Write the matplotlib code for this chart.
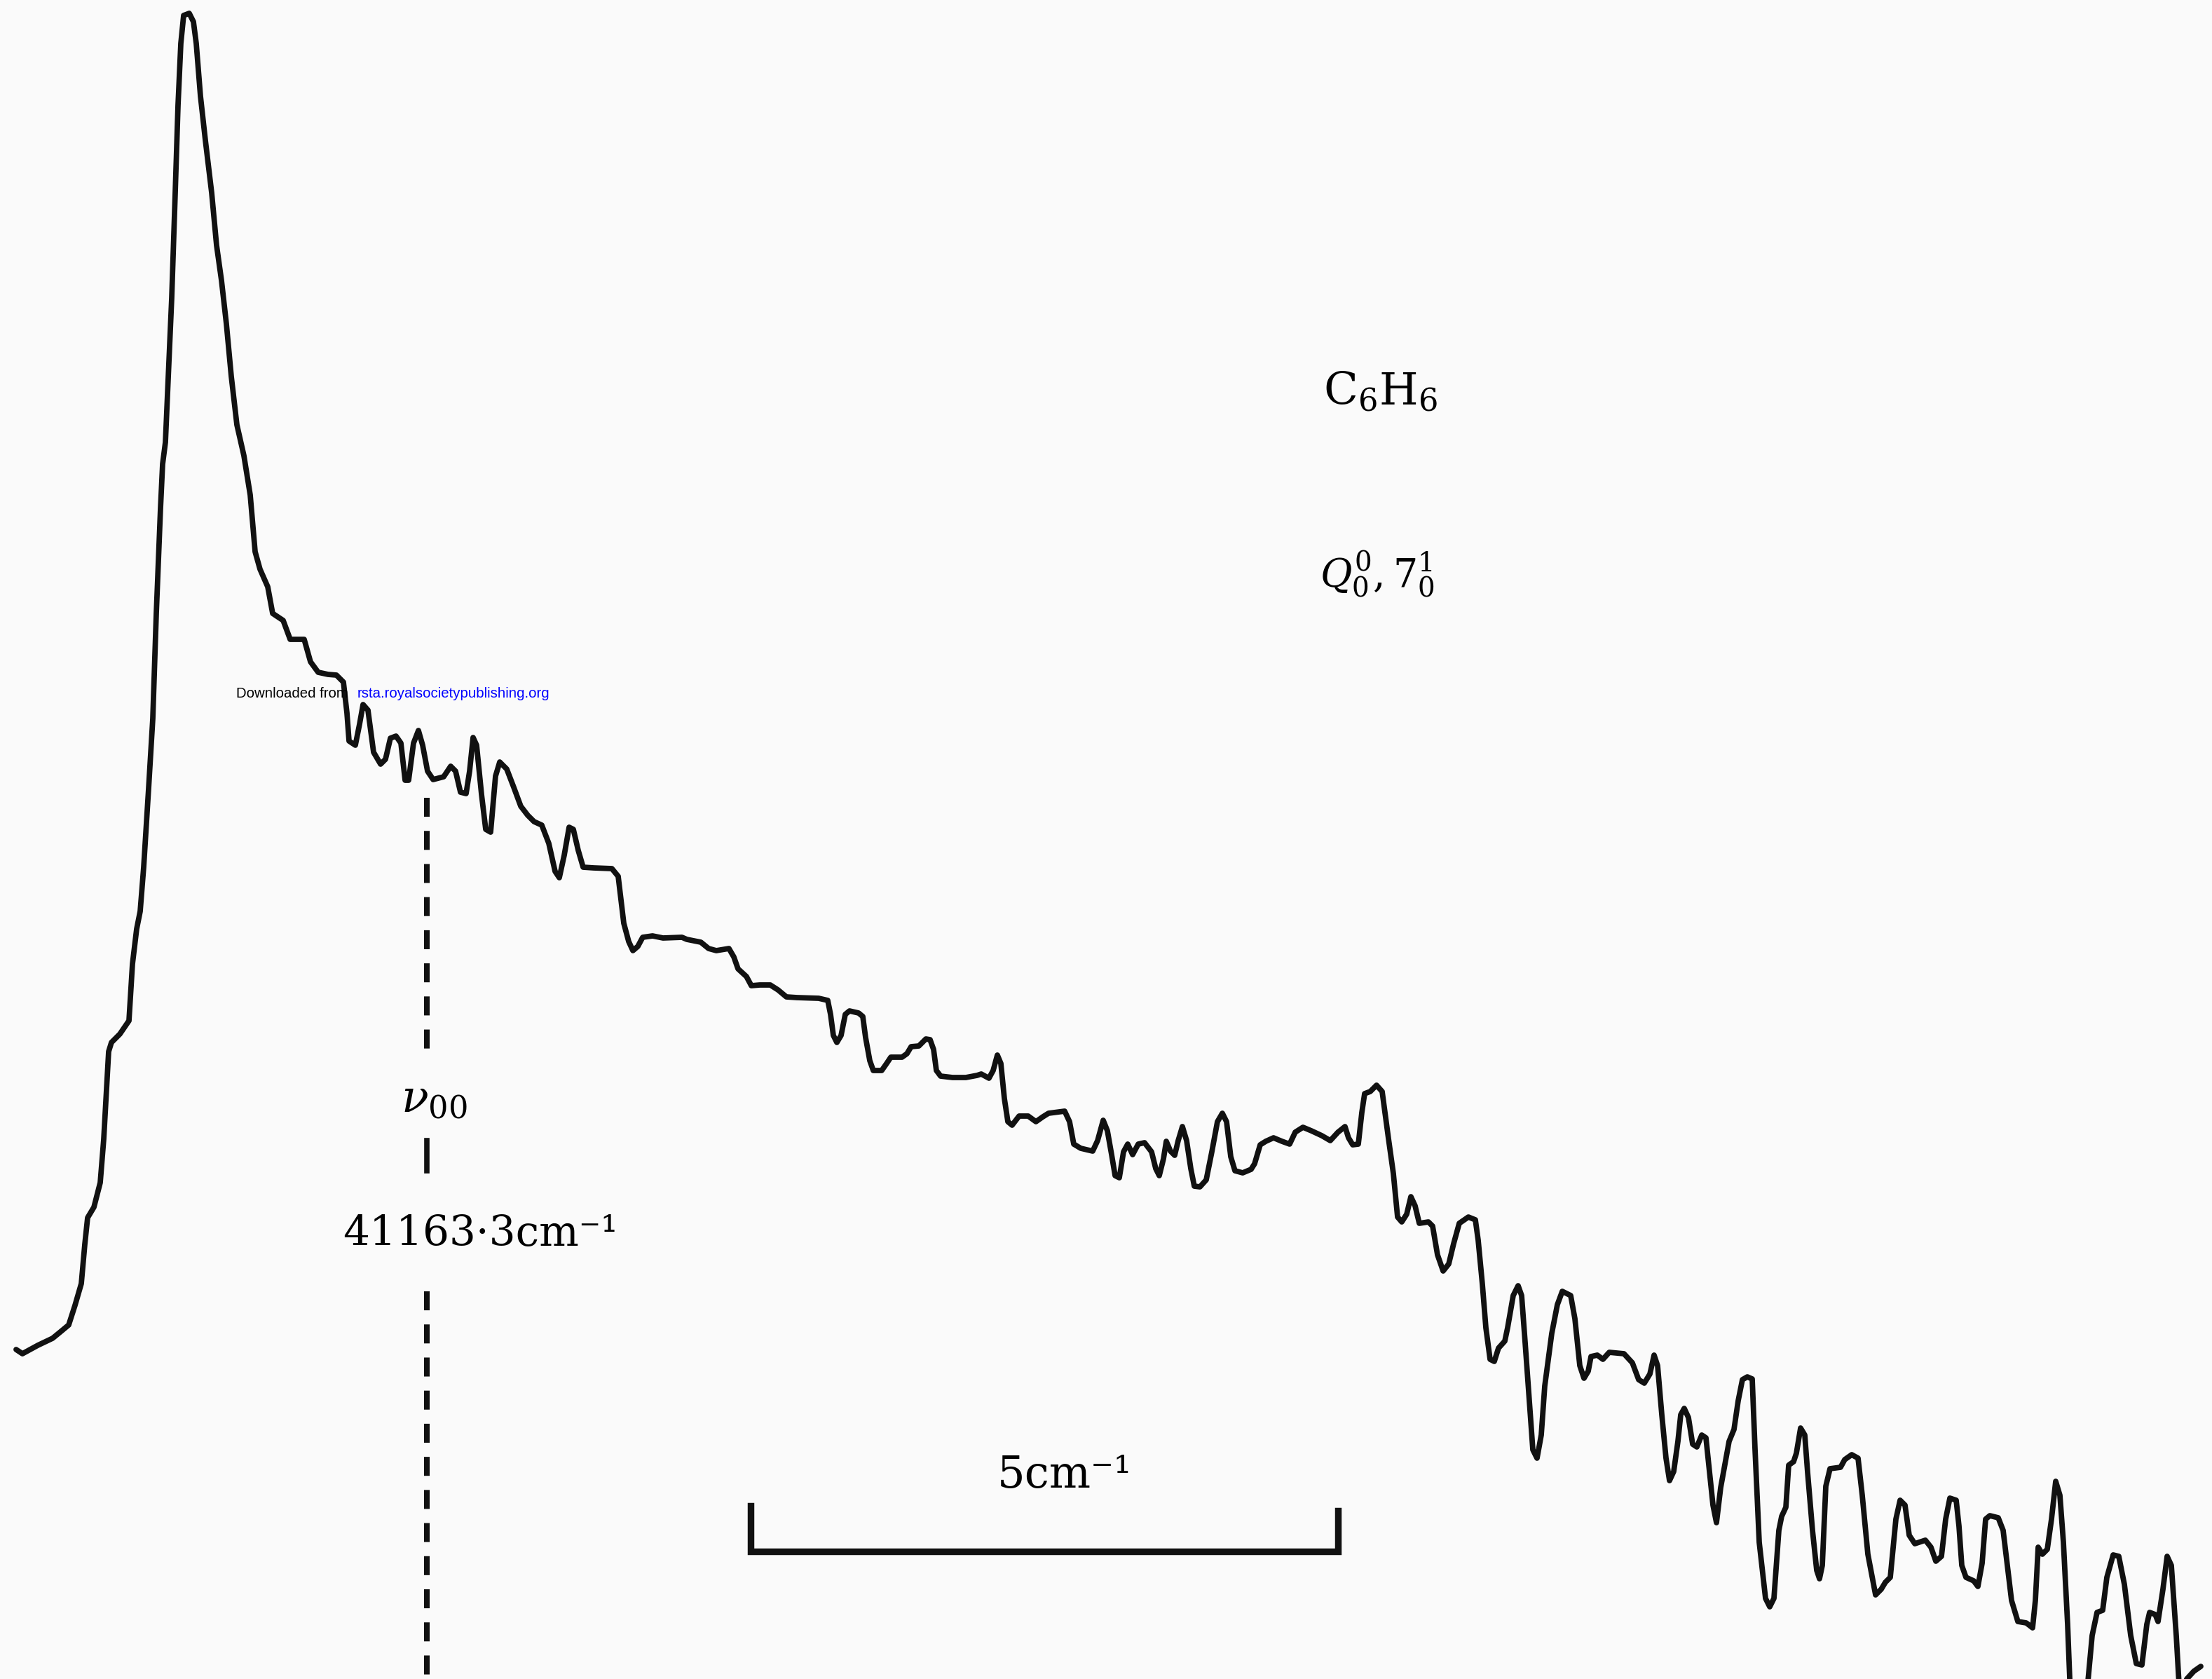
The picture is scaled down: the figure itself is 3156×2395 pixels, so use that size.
import matplotlib.pyplot as plt

# ---------- data: trace (chart units, y grows downward) ----------
trace_x = [
    23, 32, 54, 75, 86, 98, 107, 116, 121, 125, 134, 143, 148, 155, 159, 171, 184, 189, 195, 200,
    205, 212, 218, 223, 229, 232, 236, 239, 245, 250, 254, 258, 262, 270, 276, 280, 286, 293, 302, 309,
    316, 323, 330, 338, 348, 357, 364, 371, 382, 389, 404, 414, 425, 434, 443, 454, 468,
    480, 490, 495, 498, 507, 513, 518, 525, 533, 543, 550, 557, 565, 572, 578, 583, 590, 597, 603,
    610, 618, 633, 643, 650, 657, 665, 670, 675, 680, 687, 693, 700, 707, 713, 723, 733, 743, 753,
    762, 773, 783, 792, 798, 805, 812, 818, 825, 832, 847, 873, 882, 890,
    897, 903, 910, 917, 931, 946, 973, 980, 1000, 1011, 1022, 1040, 1047, 1053, 1065, 1072, 1084,
    1099, 1110, 1122, 1137, 1168, 1181, 1185, 1189, 1194, 1200, 1206, 1212, 1225, 1231, 1235, 1241,
    1246, 1258, 1265, 1271, 1287, 1294, 1300, 1311, 1321, 1327, 1332, 1336, 1342, 1359, 1378, 1394,
    1400, 1411, 1417, 1423, 1428, 1433, 1438, 1444, 1454, 1467, 1478, 1488, 1496, 1519, 1526, 1532,
    1542, 1559, 1566, 1574, 1580, 1586, 1591, 1597, 1603, 1609, 1616, 1624, 1633, 1643, 1649, 1654,
    1660, 1664, 1670, 1676, 1681, 1687, 1693, 1699, 1704, 1712, 1721, 1729, 1737, 1744, 1750, 1756,
    1762, 1773, 1785, 1790, 1798, 1806, 1817, 1829, 1840, 1848, 1859, 1871, 1886, 1898, 1909, 1919,
    1924, 1930, 1938, 1943, 1947, 1955, 1964, 1972,
    1981, 1988, 1994, 2000, 2007, 2013, 2019, 2025, 2038, 2044, 2051, 2059, 2067, 2074, 2082, 2095,
    2105, 2109, 2115, 2120, 2126, 2132, 2138, 2147, 2151, 2159, 2166, 2171, 2176, 2182, 2187, 2193,
    2199, 2204, 2214, 2222, 2229, 2241, 2247, 2254, 2260, 2266, 2270, 2279, 2287, 2296, 2317, 2329,
    2338, 2346, 2354, 2360, 2365, 2371, 2377, 2382, 2388, 2394, 2398, 2403, 2409, 2415, 2421, 2428,
    2434, 2438, 2444, 2449, 2455, 2467, 2474, 2480, 2486, 2493,
    2500, 2504, 2510, 2519, 2525, 2531, 2538, 2542, 2548, 2552, 2559, 2563, 2569, 2575, 2579, 2586,
    2592, 2596, 2600, 2605, 2611, 2626, 2632, 2642, 2651, 2657, 2665, 2676, 2684, 2690, 2697, 2705,
    2711, 2718, 2724, 2732, 2747, 2755, 2762, 2770, 2776, 2782, 2791, 2795, 2799, 2805, 2816, 2822,
    2828, 2833, 2839, 2851, 2858, 2864, 2870, 2879, 2891, 2900, 2904, 2908, 2914, 2921, 2927, 2933,
    2939, 2944, 2950, 2954, 2977, 2985, 2992, 3000, 3006, 3015, 3023, 3031, 3040, 3048, 3056, 3063,
    3067, 3075, 3079, 3086, 3092, 3098, 3105, 3110, 3120, 3130, 3140,
]
trace_y = [
    1925, 1931, 1919, 1909, 1900, 1890, 1862, 1831, 1775, 1737, 1722, 1687, 1625, 1500, 1487, 1475, 1456, 1375, 1325, 1300,
    1237, 1125, 1025, 875, 725, 662, 631, 562, 425, 275, 150, 62, 22, 19, 31, 62, 137, 200, 275, 350,
    400, 462, 537, 606, 650, 706, 787, 812, 837, 875, 885, 912, 912, 912, 944, 959, 962,
    963, 973, 1017, 1057, 1063, 1033, 1005, 1013, 1073, 1090, 1083, 1053, 1050, 1060, 1113, 1113, 1060, 1042, 1063,
    1100, 1112, 1108, 1093, 1100, 1130, 1132, 1100, 1052, 1063, 1133, 1183, 1187, 1107, 1087, 1097, 1123, 1150, 1163,
    1172, 1177, 1203, 1243, 1252, 1220, 1180, 1183, 1213, 1237, 1238, 1239, 1250, 1317,
    1343, 1356, 1350, 1337, 1335, 1338, 1337, 1340, 1344, 1353, 1356, 1353, 1365, 1382, 1393, 1406, 1405,
    1405, 1412, 1422, 1423, 1424, 1427, 1447, 1477, 1487, 1477, 1447, 1442, 1445, 1450, 1480, 1513,
    1527, 1527, 1517, 1508, 1508, 1503, 1493, 1492, 1482, 1483, 1497, 1527, 1535, 1537, 1537, 1534,
    1532, 1538, 1527, 1505, 1517, 1567, 1600, 1605, 1592, 1592, 1600, 1593, 1588, 1585, 1600, 1632,
    1638, 1642, 1627, 1598, 1613, 1647, 1677, 1680, 1643, 1632, 1647, 1632, 1630, 1643, 1667, 1677,
    1653, 1628, 1642, 1648, 1627, 1607, 1627, 1667, 1692, 1693, 1683, 1643, 1600, 1588, 1600, 1650,
    1670, 1673, 1668, 1660, 1633, 1628, 1623, 1628, 1632, 1615, 1608, 1613, 1620, 1627, 1615, 1607,
    1623, 1633, 1632, 1587, 1560, 1557, 1548, 1557,
    1624, 1674, 1736, 1743, 1732, 1707, 1720, 1745, 1743, 1749, 1790, 1813, 1803, 1774, 1745, 1736,
    1740, 1769, 1832, 1894, 1939, 1942, 1923, 1913, 1894, 1848, 1834, 1848, 1915, 1998, 2068, 2080,
    2047, 1977, 1902, 1861, 1842, 1848, 1881, 1948, 1966, 1956, 1935, 1933, 1939, 1929, 1931, 1944,
    1968, 1973, 1960, 1933, 1948, 2018, 2080, 2112, 2099, 2056, 2018, 2009, 2022, 2060, 2064, 2047,
    2051, 2089, 2147, 2172, 2122, 2056, 2039, 1998, 1968, 1964,
    1967, 2067, 2200, 2280, 2292, 2280, 2183, 2163, 2150, 2090, 2085, 2073, 2037, 2047, 2100, 2183,
    2240, 2252, 2233, 2120, 2095, 2093, 2082, 2075, 2080, 2133, 2217, 2275, 2267, 2257, 2250, 2167,
    2140, 2147, 2190, 2202, 2197, 2207, 2227, 2220, 2167, 2137, 2140, 2177, 2233, 2250, 2255, 2263,
    2230, 2167, 2162, 2165, 2183, 2233, 2283, 2313, 2315, 2322, 2283, 2207, 2217, 2210, 2167, 2113,
    2133, 2200, 2317, 2420, 2420, 2333, 2300, 2297, 2250, 2218, 2220, 2260, 2333, 2373, 2375, 2317,
    2300, 2303, 2313, 2267, 2220, 2233, 2333, 2420, 2395, 2384, 2377,
]

# v00 marker and 5 cm^-1 scale bar (chart units)
nu00_x = 609
nu00_segments = [(1138, 1505), (1627, 1670), (1842, 2410)]
bar_x = [1071, 1071, 1909, 1909]
bar_y = [2148, 2213, 2213, 2155]

W, H = 3156, 2395
plt.rcParams['mathtext.fontset'] = 'dejavuserif'
plt.rcParams['lines.scale_dashes'] = False

fig = plt.figure(figsize=(W / 100, H / 100), dpi=100, facecolor='#fafafa')
ax = fig.add_axes([0, 0, 1, 1])
ax.set_facecolor('#fafafa')

# spectrum trace
ax.plot(trace_x, trace_y, color='#111111', lw=5.6,
        solid_joinstyle='round', solid_capstyle='round')

# dashed v00 line (broken by the labels)
for y0, y1 in nu00_segments:
    if y1 - y0 < 60:
        ax.plot([nu00_x, nu00_x], [y0, y1], color='#111111', lw=5.5)
    else:
        ax.plot([nu00_x, nu00_x], [y0, y1], color='#111111', lw=5.8,
                dashes=(19.5, 14.5), dash_capstyle='butt')

# scale bar
ax.plot(bar_x, bar_y, color='#111111', lw=6.8, solid_joinstyle='miter')

serif = 'DejaVu Serif'
ax.text(1888, 578, r'C$_6$H$_6$', fontsize=46, family=serif, ha='left', va='baseline')
ax.text(1883, 837, r'$Q_0^0, 7_0^1$', fontsize=40, family=serif, ha='left', va='baseline')
ax.text(572, 1587, r'$\nu_{00}$', fontsize=46, family=serif, ha='left', va='baseline')
ax.text(489, 1777, '41163·3cm⁻¹', fontsize=43, family=serif, ha='left', va='baseline')
ax.text(1423, 2122, '5cm⁻¹', fontsize=45, family=serif, ha='left', va='baseline')

ax.text(337, 995, 'Downloaded from', fontsize=14.7, family='Liberation Sans',
        color='black', ha='left', va='baseline')
ax.text(510, 995, 'rsta.royalsocietypublishing.org', fontsize=14.7, family='Liberation Sans',
        color='#0000ff', ha='left', va='baseline')

ax.set_xlim(0, W)
ax.set_ylim(H, 0)   # chart readings grow downward
ax.axis('off')

fig.savefig('out.png', dpi=100, facecolor=fig.get_facecolor())
